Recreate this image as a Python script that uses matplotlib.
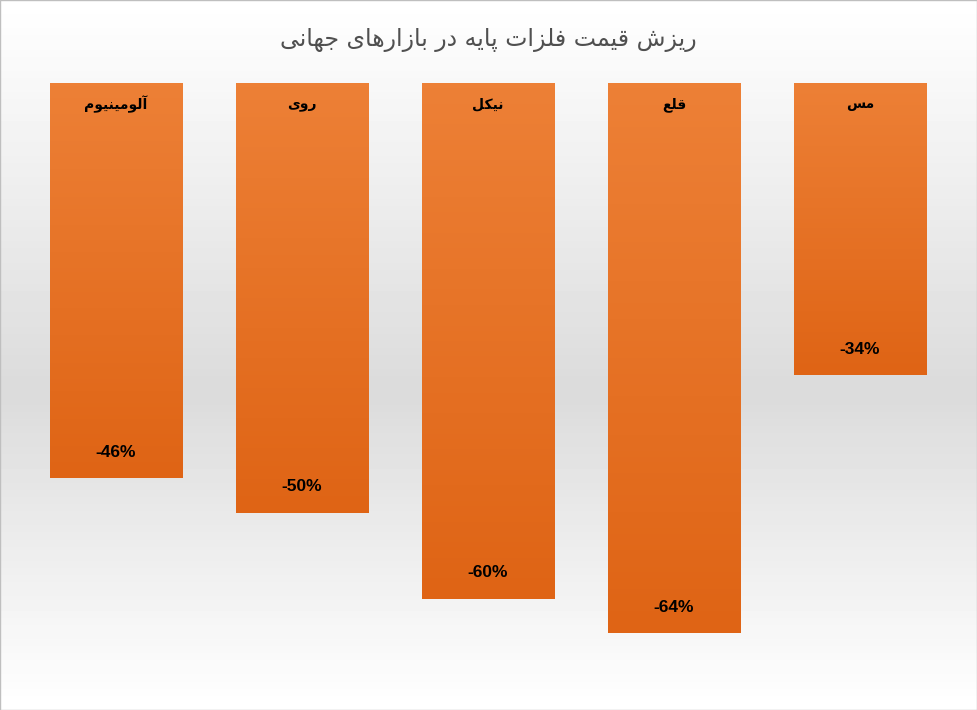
import matplotlib
matplotlib.use("Agg")
import matplotlib.pyplot as plt
import numpy as np
from matplotlib.colors import LinearSegmentedColormap

categories = ["آلومینیوم", "روی", "نیکل", "قلع", "مس"]
values = [-0.46, -0.50, -0.60, -0.64, -0.34]
title = "ریزش قیمت فلزات پایه در بازارهای جهانی"

FORMS = {
    'ا': (0xFE8D, 0xFE8E, None, None), 'آ': (0xFE81, 0xFE82, None, None),
    'ب': (0xFE8F, 0xFE90, 0xFE91, 0xFE92), 'ت': (0xFE95, 0xFE96, 0xFE97, 0xFE98),
    'ج': (0xFE9D, 0xFE9E, 0xFE9F, 0xFEA0), 'د': (0xFEA9, 0xFEAA, None, None),
    'ر': (0xFEAD, 0xFEAE, None, None), 'ز': (0xFEAF, 0xFEB0, None, None),
    'س': (0xFEB1, 0xFEB2, 0xFEB3, 0xFEB4), 'ش': (0xFEB5, 0xFEB6, 0xFEB7, 0xFEB8),
    'ع': (0xFEC9, 0xFECA, 0xFECB, 0xFECC), 'ف': (0xFED1, 0xFED2, 0xFED3, 0xFED4),
    'ق': (0xFED5, 0xFED6, 0xFED7, 0xFED8), 'ل': (0xFEDD, 0xFEDE, 0xFEDF, 0xFEE0),
    'م': (0xFEE1, 0xFEE2, 0xFEE3, 0xFEE4), 'ن': (0xFEE5, 0xFEE6, 0xFEE7, 0xFEE8),
    'ه': (0xFEE9, 0xFEEA, 0xFEEB, 0xFEEC), 'و': (0xFEED, 0xFEEE, None, None),
    'ی': (0xFBFC, 0xFBFD, 0xFBFE, 0xFBFF), 'پ': (0xFB56, 0xFB57, 0xFB58, 0xFB59),
    'ک': (0xFB8E, 0xFB8F, 0xFB90, 0xFB91),
}

def shape(s):
    out = []
    for i, c in enumerate(s):
        if c not in FORMS:
            out.append(c); continue
        p = s[i-1] if i > 0 else ''
        n = s[i+1] if i < len(s)-1 else ''
        jp = p in FORMS and FORMS[p][2] is not None
        jn = n in FORMS and FORMS[c][2] is not None
        f = FORMS[c]
        if jp and jn: cp = f[3]
        elif jp: cp = f[1]
        elif jn: cp = f[2]
        else: cp = f[0]
        out.append(chr(cp))
    return ''.join(out)[::-1]

W, H = 977, 710
fig = plt.figure(figsize=(W/100, H/100), dpi=100)
bg = fig.add_axes([0, 0, 1, 1], zorder=0)
grad = np.concatenate([np.linspace(1.0, 0.86, 55), np.linspace(0.86, 1.0, 45)])
bg.imshow(grad[:, None], aspect='auto', cmap='gray', vmin=0, vmax=1, extent=[0, 1, 0, 1])
bg.set_xlim(0, 1); bg.set_ylim(0, 1); bg.axis('off')
bg.add_patch(plt.Rectangle((0.0005, 0.0007), 0.999, 0.9986, fill=False, ec='#bfbfbf', lw=1))

ax = fig.add_axes([23/W, 1-700/H, 930/W, 617/H], zorder=1)
ax.patch.set_alpha(0)
x = np.arange(len(categories))
bw = 0.71
bars = ax.bar(x, values, width=bw, color='none')
cmap = LinearSegmentedColormap.from_list('o', ['#ED8036', '#DF6415'])
ax.set_xlim(-0.5, len(categories)-0.5)
ax.set_ylim(-0.718, 0)
for b, v, c in zip(bars, values, categories):
    x0 = b.get_x()
    ax.imshow(np.linspace(0, 1, 100)[:, None], cmap=cmap, aspect='auto',
              extent=[x0, x0+bw, v, 0], zorder=2)
    ax.text(x0+bw/2, -0.025, shape(c), ha='center', va='center', fontsize=10,
            fontweight='bold', family='DejaVu Sans', zorder=3)
    ax.text(x0+bw/2, v+0.03, f"{round(v*100)}%", ha='center', va='center',
            fontsize=12.5, fontweight='bold', family='Liberation Sans', zorder=3)
ax.axis('off')
fig.text(0.5, 1-40/H, shape(title), ha='center', va='center', fontsize=17,
         color='#505050', family='DejaVu Sans')
fig.savefig("out.png", dpi=100)
